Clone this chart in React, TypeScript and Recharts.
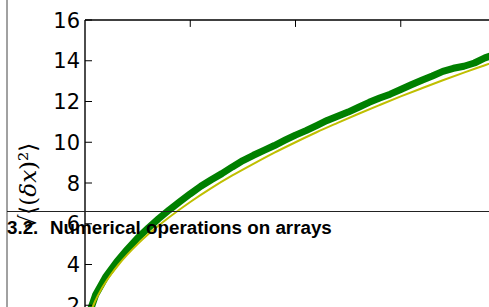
import { LineChart, Line, XAxis, YAxis, ReferenceLine } from "recharts"

// random walk: root mean square distance against time
const walkTimes = [0, 5, 10, 15, 20, 25, 30, 35, 40, 45, 50, 55, 60, 65, 70, 75, 80, 85, 90, 95, 100, 105, 110, 115, 120, 125, 130, 135, 140, 145, 150, 155, 160, 165, 170, 175, 180, 185, 190, 195, 199]
const walkRms = [1.0, 2.5, 3.42, 4.12, 4.73, 5.3, 5.79, 6.25, 6.68, 7.08, 7.47, 7.84, 8.16, 8.46, 8.79, 9.1, 9.36, 9.6, 9.84, 10.1, 10.35, 10.57, 10.82, 11.07, 11.28, 11.48, 11.72, 11.96, 12.17, 12.36, 12.59, 12.82, 13.04, 13.25, 13.48, 13.63, 13.73, 13.89, 14.14, 14.33, 14.44]

// theory curve
const fitTimes = [0, 1, 2, 3, 5, 8, 12, 16, 20, 25, 30, 40, 50, 60, 70, 80, 90, 100, 110, 120, 130, 140, 150, 160, 170, 180, 190, 199]
const fitValues = [0, 1, 1.41, 1.73, 2.24, 2.83, 3.46, 4, 4.47, 5, 5.48, 6.32, 7.07, 7.75, 8.37, 8.94, 9.49, 10, 10.49, 10.95, 11.4, 11.83, 12.25, 12.65, 13.04, 13.42, 13.78, 14.11]

const xTicks = [50, 100, 150, 200]
const yTicks = [0, 2, 4, 6, 8, 10, 12, 14, 16]

const walkData = walkTimes.map((t, i) => ({ t, rms: walkRms[i] }))
const fitData = fitTimes.map((t, i) => ({ t, fit: fitValues[i] }))

const YTick = (props: any) => {
  const { y, payload } = props
  return (
    <g>
      <line x1={85} x2={92} y1={y} y2={y} stroke="#000" strokeWidth={1} />
      <text x={80} y={y} dy={7.5} textAnchor="end" fontSize={21} fontFamily="DejaVu Sans" fill="#000">
        {payload.value}
      </text>
    </g>
  )
}

export default function App() {
  return (
    <div style={{ position: "fixed", left: 0, top: 0, width: 489, height: 307, overflow: "hidden", background: "#fff" }}>
      <LineChart width={560} height={400} margin={{ top: 19, right: 54, bottom: 54, left: 0 }}>
        <XAxis
          type="number"
          dataKey="t"
          orientation="top"
          domain={[0, 200]}
          ticks={xTicks}
          height={1}
          tickLine={false}
          tick={false}
          axisLine={{ stroke: "#000", strokeWidth: 1.4 }}
          allowDuplicatedCategory={false}
        />
        <YAxis
          type="number"
          domain={[0, 16]}
          ticks={yTicks}
          width={85}
          tickLine={false}
          tick={<YTick />}
          axisLine={{ stroke: "#000", strokeWidth: 1.4 }}
        />
        {xTicks.map((t) => (
          <ReferenceLine
            key={t}
            segment={[{ x: t, y: 16 }, { x: t, y: 15.66 }]}
            stroke="#000"
            strokeWidth={1}
            ifOverflow="visible"
          />
        ))}
        <Line
          data={walkData}
          dataKey="rms"
          type="linear"
          stroke="#008000"
          strokeWidth={7}
          strokeLinecap="round"
          strokeLinejoin="round"
          dot={false}
          isAnimationActive={false}
        />
        <Line
          data={fitData}
          dataKey="fit"
          type="monotone"
          stroke="#bfbf00"
          strokeWidth={2}
          dot={false}
          isAnimationActive={false}
        />
      </LineChart>
      <svg width={489} height={307} style={{ position: "absolute", left: 0, top: 0 }}>
        <line x1={7} x2={7} y1={0} y2={307} stroke="#444" strokeWidth={1} />
        <line x1={7} x2={489} y1={211.5} y2={211.5} stroke="#222" strokeWidth={1} />
        <text transform="translate(36,186) rotate(-90)" textAnchor="middle" fontSize={23} fontFamily="DejaVu Serif" fill="#000">
          √⟨(<tspan fontStyle="italic">δx</tspan>)²⟩
        </text>
        <text x={7} y={234} fontSize={18.8} fontWeight="bold" fontFamily="Liberation Sans" fill="#000">3.2.</text>
        <text x={50} y={234} fontSize={18.8} fontWeight="bold" fontFamily="Liberation Sans" fill="#000">Numerical operations on arrays</text>
      </svg>
    </div>
  )
}
